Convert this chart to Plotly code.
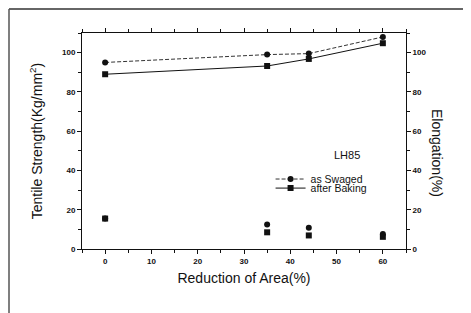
import plotly.graph_objects as go

reduction = [0, 35, 44, 60]
strength_swaged = [95, 99, 99.5, 108]
strength_baked = [89, 93.2, 96.8, 104.8]
elong_swaged = [15.5, 12.5, 10.8, 7.6]
elong_baked = [15.5, 8.5, 6.9, 6.2]

x_ticks = [0, 10, 20, 30, 40, 50, 60]
y_ticks = [0, 20, 40, 60, 80, 100]

FONT = "Arial, Liberation Sans, sans-serif"

fig = go.Figure()
fig.add_trace(go.Scatter(
    x=reduction, y=strength_swaged, name="as Swaged", mode="lines+markers",
    line=dict(color="#333", width=1, dash="4px,2px"),
    marker=dict(symbol="circle", size=6, color="#111"), legend="legend"))
fig.add_trace(go.Scatter(
    x=reduction, y=strength_baked, name="after Baking", mode="lines+markers",
    line=dict(color="#111", width=1),
    marker=dict(symbol="square", size=6, color="#111"), legend="legend2"))
fig.add_trace(go.Scatter(
    x=reduction, y=elong_swaged, mode="markers", showlegend=False, yaxis="y2",
    marker=dict(symbol="circle", size=6, color="#111")))
fig.add_trace(go.Scatter(
    x=reduction, y=elong_baked, mode="markers", showlegend=False, yaxis="y2",
    marker=dict(symbol="square", size=6, color="#111")))

axis_common = dict(
    showgrid=False, zeroline=False, showline=True, linecolor="#111", linewidth=1,
    ticks="outside", ticklen=4, tickcolor="#111", automargin=False,
    tickfont=dict(family=FONT, size=8, color="#111", weight="bold"),
)

leg_common = dict(xanchor="left", yanchor="middle", bgcolor="rgba(0,0,0,0)",
                  font=dict(family=FONT, size=10.5, color="#111"), itemwidth=30)

fig.update_layout(
    width=463, height=305,
    margin=dict(l=74, r=65, t=25, b=64),
    paper_bgcolor="white", plot_bgcolor="white",
    font=dict(family=FONT, color="#111"),
    xaxis=dict(
        **axis_common, range=[-5, 65], tickvals=x_ticks, mirror="ticks",
        minor=dict(dtick=5, tick0=0, ticks="outside", ticklen=3, tickcolor="#111"),
        title=dict(text="Reduction of Area(%)", font=dict(family=FONT, size=14), standoff=8),
    ),
    yaxis=dict(
        **axis_common, range=[0, 110], tickvals=y_ticks,
        minor=dict(dtick=10, tick0=0, ticks="outside", ticklen=3, tickcolor="#111"),
        title=dict(text="Tentile Strength(Kg/mm<sup>2</sup>)", font=dict(family=FONT, size=14), standoff=16),
    ),
    yaxis2=dict(
        **axis_common, range=[0, 110], tickvals=y_ticks, overlaying="y", side="right",
        minor=dict(dtick=10, tick0=0, ticks="outside", ticklen=3, tickcolor="#111"),
    ),
    legend=dict(**leg_common, x=0.582, y=0.324),
    legend2=dict(**leg_common, x=0.582, y=0.282),
    showlegend=True,
    annotations=[
        dict(text="LH85", x=0.818, y=0.435, xref="paper", yref="paper",
             xanchor="center", yanchor="middle",
             showarrow=False, font=dict(family=FONT, size=11, color="#111")),
        dict(text="Elongation(%)", x=1.096, y=0.444, xref="paper", yref="paper",
             xanchor="center", yanchor="middle",
             textangle=90, showarrow=False, font=dict(family=FONT, size=14, color="#111")),
    ],
    shapes=[
        dict(type="line", xref="paper", yref="paper", x0=-0.2253, x1=1.2, y0=1.111, y1=1.111,
             line=dict(color="#333", width=1.5)),
        dict(type="line", xref="paper", yref="paper", x0=-0.2253, x1=-0.2253, y0=1.111, y1=-0.296,
             line=dict(color="#555", width=1.5)),
    ],
)

fig.write_html("out.html")
